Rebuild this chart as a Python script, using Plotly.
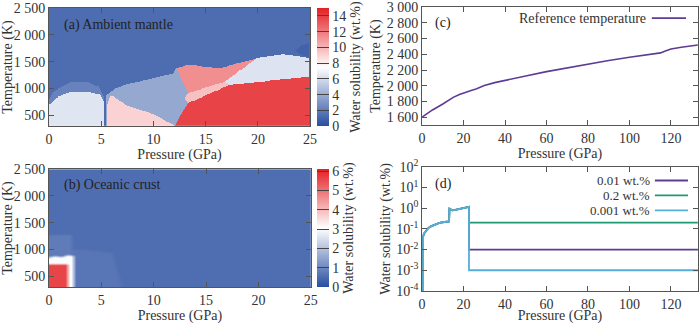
"""
Water solubility maps and reference profiles (4 panels).
"""

import numpy as np
import plotly.graph_objects as go

# ── data ────────────────────────────────────────────────────────────────────
# (a) ambient mantle: solubility regions as (P [GPa], T [K]) polygons
mantle_background = 1.3
mantle_regions = [
    # (value, polygon)
    (2.2, [(0, 300), (0, 800), (0.41, 938), (2.17, 1125), (3.7, 1125), (4.7, 1031),
           (5.05, 914), (5.3, 800), (5.3, 300)]),
    (6.4, [(0, 300), (0, 690), (0.9, 845), (2.17, 938), (3.7, 938), (4.9, 877),
           (5.2, 752), (5.25, 300)]),
    (3.8, [(5.45, 300), (5.43, 860), (6.3, 983), (7.4, 1076), (9.0, 1138),
           (11.9, 1280), (12.2, 1386), (13.35, 908), (13.5, 767), (12.1, 300)]),
    (9.0, [(5.6, 300), (5.6, 700), (5.84, 845), (6.3, 840), (7.3, 690),
           (10.15, 503), (12.0, 300)]),
    (11.3, [(12.2, 1375), (13.35, 1436), (16.4, 1375), (19.9, 1561),
            (16.86, 1125), (13.35, 908)]),
    (9.6, [(13.0, 800), (13.35, 908), (16.86, 1125), (17.3, 1063), (13.35, 722)]),
    (6.3, [(16.86, 1125), (19.9, 1561), (22.44, 1636), (25, 1561), (25, 1218),
           (17.3, 1063)]),
    (13.8, [(12.1, 300), (12.6, 500), (13.35, 722), (17.3, 1063), (25, 1218), (25, 300)]),
    (0.9, [(23.6, 1700), (24.2, 1800), (25, 1850), (25, 1580), (24.2, 1620)]),
]

# (b) oceanic crust
crust_background = 0.55
crust_regions = [
    (0.78, [(0, 300), (0, 1275), (2.2, 1275), (2.2, 300)]),
    (0.68, [(2.2, 300), (2.2, 1000), (3.0, 1010), (6.0, 950), (7.0, 300)]),
    (3.0, [(0, 300), (0, 850), (0.5, 880), (1.2, 860), (1.7, 900), (2.35, 880),
           (2.35, 300)]),
    (5.6, [(0, 300), (0, 730), (1.75, 730), (1.75, 300)]),
]

# (c) reference temperature
p_ref = [0, 2, 5, 10, 15, 18, 22, 24, 26, 30, 35, 40, 50, 60, 70, 80, 90, 100,
         110, 115, 117, 120, 125, 133]
t_ref = [1600, 1640, 1692, 1768, 1852, 1889, 1931, 1944, 1960, 2002, 2040, 2070,
         2125, 2180, 2230, 2279, 2322, 2363, 2400, 2418, 2440, 2468, 2490, 2518]

# (d) water solubility along the profile
p_sol = [0.45, 0.5, 1, 2, 3, 4, 6, 8, 10, 12, 13, 13.2, 14, 14.6, 16, 18, 20, 22.5, 22.6]
sol = [1e-6, 0.045, 0.06, 0.085, 0.11, 0.13, 0.16, 0.19, 0.21, 0.22, 0.23, 0.95,
       0.85, 0.8, 0.84, 0.92, 1.02, 1.15, 1.15]
p_plateau = [22.6, 133]
water_names = ["0.01 wt.%", "0.2 wt.%", "0.001 wt.%"]
water_levels = [0.01, 0.2, 0.001]
water_colors = ["#5E3C96", "#1F9A72", "#58AEDB"]

temp_ticks = [500, 1000, 1500, 2000, 2500]
temp_labels = ["500", "1 000", "1 500", "2 000", "2 500"]
ref_ticks = [1600, 1800, 2000, 2200, 2400, 2600, 2800, 3000]
ref_labels = ["1 600", "1 800", "2 000", "2 200", "2 400", "2 600", "2 800", "3 000"]
log_ticks = [1e-4, 1e-3, 1e-2, 1e-1, 1, 10, 100]
log_labels = ["10<sup>-4</sup>", "10<sup>-3</sup>", "10<sup>-2</sup>", "10<sup>-1</sup>",
              "10<sup>0</sup>", "10<sup>1</sup>", "10<sup>2</sup>"]


# ── helpers ─────────────────────────────────────────────────────────────────
P_GRID = np.linspace(0, 25, 251)
T_GRID = np.linspace(300, 2500, 221)


def in_polygon(X, Y, poly):
    inside = np.zeros(X.shape, dtype=bool)
    n = len(poly)
    for i in range(n):
        x1, y1 = poly[i]
        x2, y2 = poly[(i + 1) % n]
        if y1 == y2:
            continue
        cross = ((y1 > Y) != (y2 > Y)) & (X < (x2 - x1) * (Y - y1) / (y2 - y1) + x1)
        inside ^= cross
    return inside


def rasterize(background, regions):
    X, Y = np.meshgrid(P_GRID, T_GRID)
    z = np.full(X.shape, background, dtype=float)
    for value, poly in regions:
        z[in_polygon(X, Y, poly)] = value
    return z


def box_blur(z, kx, ky):
    out = z.copy()
    if kx > 1:
        pad = np.pad(out, ((0, 0), (kx // 2, kx // 2)), mode="edge")
        out = np.mean([pad[:, i:i + out.shape[1]] for i in range(kx)], axis=0)
    if ky > 1:
        pad = np.pad(out, ((ky // 2, ky // 2), (0, 0)), mode="edge")
        out = np.mean([pad[i:i + out.shape[0], :] for i in range(ky)], axis=0)
    return out


z_mantle = rasterize(mantle_background, mantle_regions)
z_crust = box_blur(rasterize(crust_background, crust_regions), 5, 5)

FONT = "Liberation Serif"
INK = "#333333"
FRAME = "#555555"
COLORSCALE = [[0, "rgb(40,78,160)"], [0.5, "rgb(255,255,255)"], [1, "rgb(228,32,36)"]]

axis_style = dict(
    showline=True, linecolor=FRAME, linewidth=1, mirror="ticks",
    ticks="inside", ticklen=5, tickcolor=FRAME, showgrid=False, zeroline=False,
    tickfont=dict(size=14, color=INK, family=FONT),
    title_font=dict(size=14, color=INK, family=FONT),
)


def colorbar(ymid, tickvals):
    return dict(
        x=0.453, xanchor="left", xpad=0, ypad=0, y=ymid, yanchor="middle",
        len=0.364, thickness=12, outlinewidth=0,
        ticks="inside", ticklen=12, tickcolor="#444444",
        tickvals=tickvals, tickfont=dict(size=14, color=INK, family=FONT),
        title=dict(text="Water solubility (wt.%)", side="right",
                   font=dict(size=14, color=INK, family=FONT)),
    )


# ── figure ──────────────────────────────────────────────────────────────────
fig = go.Figure()

fig.add_trace(go.Heatmap(
    x=P_GRID, y=T_GRID, z=z_mantle, zmin=0, zmax=15, colorscale=COLORSCALE,
    xaxis="x", yaxis="y", colorbar=colorbar(0.793, [0, 2, 4, 6, 8, 10, 12, 14]),
))
fig.add_trace(go.Heatmap(
    x=P_GRID, y=T_GRID, z=z_crust, zmin=0, zmax=6.1, colorscale=COLORSCALE,
    zsmooth="best", xaxis="x2", yaxis="y2",
    colorbar=colorbar(0.296, [0, 1, 2, 3, 4, 5, 6]),
))
fig.add_trace(go.Scatter(
    x=p_ref, y=t_ref, mode="lines", line=dict(color="#5E3C96", width=1.6),
    xaxis="x3", yaxis="y3", showlegend=False,
))
for name, level, color in zip(water_names, water_levels, water_colors):
    fig.add_trace(go.Scatter(
        x=p_sol + p_plateau, y=sol + [level, level], mode="lines", name=name,
        line=dict(color=color, width=1.8), xaxis="x4", yaxis="y4", showlegend=False,
    ))

fig.update_layout(
    width=700, height=324, margin=dict(l=0, r=0, t=0, b=0, autoexpand=False),
    paper_bgcolor="white", plot_bgcolor="white",
    font=dict(family=FONT, color=INK),
    xaxis=dict(axis_style, domain=[0.070, 0.443], anchor="y", range=[0, 25],
               dtick=5, title=dict(text="Pressure (GPa)", standoff=2)),
    yaxis=dict(axis_style, domain=[0.611, 0.975], anchor="x", range=[300, 2500],
               tickvals=temp_ticks, ticktext=temp_labels,
               title=dict(text="Temperature (K)", standoff=4)),
    xaxis2=dict(axis_style, domain=[0.070, 0.444], anchor="y2", range=[0, 25],
                dtick=5, title=dict(text="Pressure (GPa)", standoff=2)),
    yaxis2=dict(axis_style, domain=[0.114, 0.478], anchor="x2", range=[300, 2500],
                tickvals=temp_ticks, ticktext=temp_labels,
                title=dict(text="Temperature (K)", standoff=4)),
    xaxis3=dict(axis_style, domain=[0.603, 0.997], anchor="y3", range=[0, 133],
                dtick=20, title=dict(text="Pressure (GPa)", standoff=2)),
    yaxis3=dict(axis_style, domain=[0.614, 0.978], anchor="x3", range=[1500, 3000],
                tickvals=ref_ticks, ticktext=ref_labels,
                title=dict(text="Temperature (K)", standoff=2)),
    xaxis4=dict(axis_style, domain=[0.603, 0.997], anchor="y4", range=[0, 133],
                dtick=20, title=dict(text="Pressure (GPa)", standoff=1)),
    yaxis4=dict(axis_style, domain=[0.102, 0.485], anchor="x4", type="log",
                range=[-4, 2], tickvals=log_ticks, ticktext=log_labels,
                title=dict(text="Water solubility (wt.%)", standoff=2)),
)

# panel labels
for text, xref, yref, x, y in [
    ("(a) Ambient mantle", "x domain", "y domain", 0.049, 0.856),
    ("(b) Oceanic crust", "x2 domain", "y2 domain", 0.049, 0.864),
    ("(c)", "x3 domain", "y3 domain", 0.039, 0.864),
    ("(d)", "x4 domain", "y4 domain", 0.040, 0.862),
]:
    fig.add_annotation(text=text, xref=xref, yref=yref, x=x, y=y, showarrow=False,
                       xanchor="left", yanchor="middle",
                       font=dict(size=14, color="#222222", family=FONT))

# legends with the sample line to the right of the text
fig.add_annotation(text="Reference temperature", xref="x3 domain", yref="y3 domain",
                   x=0.819, y=0.907, xanchor="right", yanchor="middle", showarrow=False,
                   font=dict(size=14, color=INK, family=FONT))
fig.add_shape(type="line", xref="x3 domain", yref="y3 domain", x0=0.833, x1=0.957,
              y0=0.907, y1=0.907, line=dict(color="#5E3C96", width=1.6))

for name, color, y in zip(water_names, water_colors, [0.89, 0.77, 0.65]):
    fig.add_annotation(text=name, xref="x4 domain", yref="y4 domain", x=0.833, y=y,
                       xanchor="right", yanchor="middle", showarrow=False,
                       font=dict(size=13, color=INK, family=FONT))
    fig.add_shape(type="line", xref="x4 domain", yref="y4 domain", x0=0.844, x1=0.964,
                  y0=y, y1=y, line=dict(color=color, width=1.8))

# the page's default body margin would shift the fixed-size figure
fig.write_html("out.html", config={"displayModeBar": False},
               post_script="document.body.style.margin = '0';")
